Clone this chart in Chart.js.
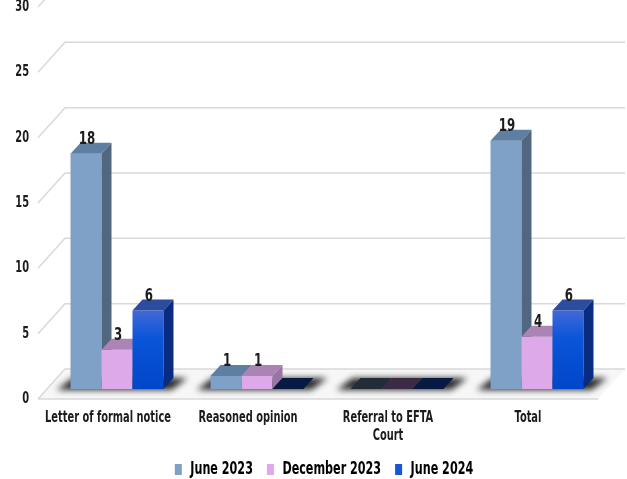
<!DOCTYPE html>
<html>
<head>
<meta charset="utf-8">
<script src="https://cdn.jsdelivr.net/npm/chart.js@4.4.1/dist/chart.umd.min.js"></script>
<style>
  html, body { margin: 0; padding: 0; background: #fff; }
</style>
</head>
<body>
<canvas id="myChart" width="627" height="479"></canvas>
<script>
// data
const categories = ["Letter of formal notice", "Reasoned opinion", ["Referral to EFTA", "Court"], "Total"];
const seriesNames = ["June 2023", "December 2023", "June 2024"];
const june2023 = [18, 1, 0, 19];
const december2023 = [3, 1, 0, 4];
const june2024 = [6, 0, 0, 6];
const yTicks = [0, 5, 10, 15, 20, 25, 30];

const seriesValues = [june2023, december2023, june2024];
const frontColors = ["#7fa1c8", "#dea9e9", "#0a52d8"];
const topColors = ["#5f7fa2", "#aa84b4", "#2c4c9f"];
const sideColors = ["#50677f", "#9a74a4", "#0a2c80"];
const zeroColors = ["#232d38", "#3b2b45", "#061a42"];
const legendColors = ["#7fa1c8", "#dea9e9", "#1a55d8"];

const FONT = "'DejaVu Sans Condensed', sans-serif";
const TEXT = "#1c1c1c";

// no Arial Narrow here, so squeeze the condensed face sideways
const NARROW = 0.73;
const proto = CanvasRenderingContext2D.prototype;
const fillText0 = proto.fillText;
const measureText0 = proto.measureText;
const isNarrow = (c) => c.font.indexOf("DejaVu Sans Condensed") >= 0;
proto.fillText = function (t, x, y) {
  if (!isNarrow(this)) return fillText0.call(this, t, x, y);
  this.save();
  this.translate(x, y);
  this.scale(NARROW, 1);
  fillText0.call(this, t, 0, 0);
  this.restore();
};
proto.measureText = function (t) {
  const m = measureText0.call(this, t);
  if (!isNarrow(this)) return m;
  return {
    width: m.width * NARROW,
    actualBoundingBoxLeft: m.actualBoundingBoxLeft * NARROW,
    actualBoundingBoxRight: m.actualBoundingBoxRight * NARROW,
    actualBoundingBoxAscent: m.actualBoundingBoxAscent,
    actualBoundingBoxDescent: m.actualBoundingBoxDescent,
    fontBoundingBoxAscent: m.fontBoundingBoxAscent,
    fontBoundingBoxDescent: m.fontBoundingBoxDescent,
  };
};

// 3d offsets
const DX = 10, DY = 11;   // bar depth
const SX = 9, SY = -10;   // bars sit a third of the way back
const BX = 27, BY = -30;  // back wall

function quad(ctx, pts, color) {
  ctx.fillStyle = color;
  ctx.beginPath();
  ctx.moveTo(pts[0][0], pts[0][1]);
  for (let i = 1; i < pts.length; i++) ctx.lineTo(pts[i][0], pts[i][1]);
  ctx.closePath();
  ctx.fill();
}

const scene3d = {
  id: "scene3d",
  afterLayout(chart) {
    const lg = chart.legend;
    lg.left += 25; lg.right += 25;
  },
  beforeDraw(chart) {
    const { ctx, chartArea: a, scales: { y } } = chart;
    const y0 = y.getPixelForValue(0);
    ctx.save();
    quad(ctx, [[a.left, y0], [a.right, y0], [a.right + BX, y0 + BY], [a.left + BX, y0 + BY]], "#f7f7f7");
    ctx.strokeStyle = "#d9d9d9";
    ctx.lineWidth = 1.5;
    yTicks.forEach((v) => {
      const py = y.getPixelForValue(v);
      ctx.beginPath();
      ctx.moveTo(a.left, py);
      ctx.lineTo(a.left + BX, py + BY);
      ctx.lineTo(a.right + BX, py + BY);
      ctx.stroke();
    });
    ctx.beginPath();
    ctx.moveTo(a.left, y0);
    ctx.lineTo(a.right, y0);
    ctx.stroke();
    ctx.restore();
  },
  beforeDatasetsDraw(chart) {
    const { ctx } = chart;
    ctx.save();
    ctx.translate(SX, SY);
    // floor shadow under each group
    const first = chart.getDatasetMeta(0).data;
    const last = chart.getDatasetMeta(2).data;
    ctx.save();
    ctx.filter = "blur(3px)";
    categories.forEach((c, i) => {
      const l = first[i].x - first[i].width / 2 - 14;
      const r = last[i].x + last[i].width / 2 + 8;
      const b = first[i].base;
      quad(ctx, [[l, b + 1], [r, b + 1], [r + DX + 6, b - DY], [l + DX + 6, b - DY]], "rgba(20,20,20,0.9)");
    });
    ctx.restore();
  },
  beforeDatasetDraw() {
    return false;
  },
  afterDatasetsDraw(chart) {
    const { ctx } = chart;
    for (let d = 0; d < seriesValues.length; d++) {
      chart.getDatasetMeta(d).data.forEach((bar, i) => {
        const v = seriesValues[d][i];
        const { x, y, base, width } = bar.getProps(["x", "y", "base", "width"], true);
        const l = x - width / 2, r = x + width / 2;
        if (v === 0) {
          quad(ctx, [[l, base], [r, base], [r + DX, base - DY], [l + DX, base - DY]], zeroColors[d]);
          return;
        }
        bar.draw(ctx);
        quad(ctx, [[l, y], [r, y], [r + DX, y - DY], [l + DX, y - DY]], topColors[d]);
        quad(ctx, [[r, y], [r + DX, y - DY], [r + DX, base - DY], [r, base]], sideColors[d]);
      });
    }
    // value labels
    ctx.fillStyle = TEXT;
    ctx.font = "bold 18px " + FONT;
    ctx.textAlign = "center";
    ctx.textBaseline = "alphabetic";
    for (let d = 0; d < seriesValues.length; d++) {
      chart.getDatasetMeta(d).data.forEach((bar, i) => {
        const v = seriesValues[d][i];
        if (v === 0) return;
        ctx.fillText(String(v), bar.x + 1, bar.y - 10);
      });
    }
    ctx.restore();
  },
};

const ctx = document.getElementById("myChart").getContext("2d");
const myChart = new Chart(ctx, {
  type: "bar",
  data: {
    labels: categories,
    datasets: seriesNames.map((name, d) => ({
      label: name,
      data: seriesValues[d],
      backgroundColor: d < 2 ? frontColors[d] : (c) => {
        const y = c.chart.scales.y;
        if (!y) return frontColors[d];
        const g = c.chart.ctx.createLinearGradient(0, y.getPixelForValue(6), 0, y.getPixelForValue(0));
        g.addColorStop(0, "#4169d6");
        g.addColorStop(0.35, "#0a55d9");
        g.addColorStop(1, "#0046c8");
        return g;
      },
      borderWidth: 0,
      categoryPercentage: 0.664,
      barPercentage: 1.0,
    })),
  },
  options: {
    responsive: false,
    animation: false,
    layout: { padding: { top: 7, right: 29, left: 0, bottom: -9 } },
    scales: {
      x: {
        grid: { display: false, drawTicks: false },
        border: { display: false },
        ticks: {
          padding: 10,
          color: TEXT,
          maxRotation: 0,
          autoSkip: false,
          font: { family: FONT, size: 15, weight: "bold" },
        },
        afterFit: (s) => { s.height = 48; s.paddingLeft = 0; s.paddingRight = 0; },
      },
      y: {
        min: 0,
        max: 30,
        afterBuildTicks: (s) => { s.ticks = yTicks.map((v) => ({ value: v })); },
        grid: { display: false, drawTicks: false },
        border: { display: false },
        ticks: {
          padding: 9,
          color: TEXT,
          font: { family: FONT, size: 15, weight: "bold" },
        },
        afterFit: (s) => { s.width = 38; s.paddingTop = 0; s.paddingBottom = 0; },
      },
    },
    plugins: {
      tooltip: { enabled: false },
      legend: {
        position: "bottom",
        labels: {
          boxWidth: 7,
          boxHeight: 11,
          padding: 14,
          color: TEXT,
          font: { family: FONT, size: 17, weight: "bold" },
          generateLabels: () => seriesNames.map((n, i) => ({
            text: n,
            fillStyle: legendColors[i],
            strokeStyle: legendColors[i],
            lineWidth: 0,
            hidden: false,
            datasetIndex: i,
          })),
        },
      },
    },
  },
  plugins: [scene3d],
});
</script>
</body>
</html>
